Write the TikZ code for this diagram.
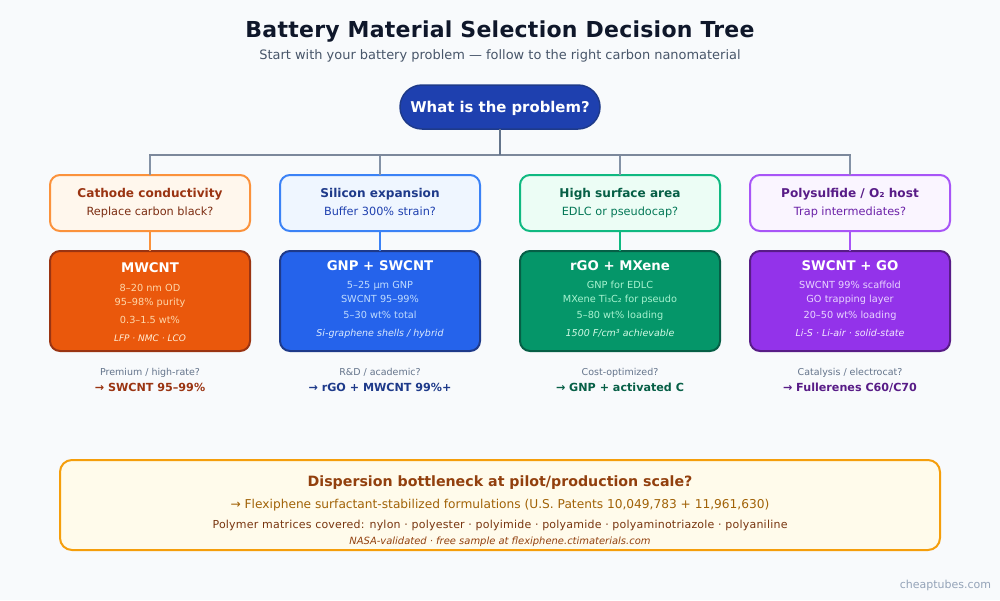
\documentclass[tikz,border=0pt]{standalone}
\usepackage{fontspec}
\setmainfont{DejaVu Sans}
\definecolor{bgc}{HTML}{F8FAFC}
\definecolor{ink}{HTML}{0F172A}
\definecolor{subink}{HTML}{475569}
\definecolor{note}{HTML}{64748B}
\definecolor{trunk}{HTML}{64748B}
\definecolor{bus}{HTML}{7C889B}
\definecolor{drop}{HTML}{8492A6}
\definecolor{rootf}{HTML}{1E40AF}
\definecolor{rootd}{HTML}{1E3A8A}
\definecolor{oB}{HTML}{FB923C}\definecolor{oF}{HTML}{FFF7ED}\definecolor{oT}{HTML}{9A3412}\definecolor{oS}{HTML}{7C2D12}
\definecolor{oSF}{HTML}{EA580C}\definecolor{oL}{HTML}{FED7AA}\definecolor{oI}{HTML}{FFEDD5}
\definecolor{bB}{HTML}{3B82F6}\definecolor{bF}{HTML}{EFF6FF}\definecolor{bT}{HTML}{1E3A8A}\definecolor{bS}{HTML}{1E40AF}
\definecolor{bSF}{HTML}{2563EB}\definecolor{bL}{HTML}{BFDBFE}\definecolor{bI}{HTML}{DBEAFE}
\definecolor{gB}{HTML}{10B981}\definecolor{gF}{HTML}{ECFDF5}\definecolor{gT}{HTML}{065F46}\definecolor{gS}{HTML}{047857}
\definecolor{gSF}{HTML}{059669}\definecolor{gL}{HTML}{A7F3D0}\definecolor{gI}{HTML}{D1FAE5}
\definecolor{pB}{HTML}{A855F7}\definecolor{pF}{HTML}{FAF5FF}\definecolor{pT}{HTML}{581C87}\definecolor{pS}{HTML}{6B21A8}
\definecolor{pSF}{HTML}{9333EA}\definecolor{pL}{HTML}{E9D5FF}\definecolor{pI}{HTML}{F3E8FF}
\definecolor{yB}{HTML}{F59E0B}\definecolor{yF}{HTML}{FFFBEB}\definecolor{yT}{HTML}{92400E}\definecolor{yS}{HTML}{A16207}\definecolor{yD}{HTML}{78350F}
\definecolor{foot}{HTML}{94A3B8}
\tikzset{
  tx/.style={anchor=base,inner sep=0pt,outer sep=0pt},
  f/.style={tx,font=\fontsize{#1}{#1}\selectfont},
  fb/.style={tx,font=\fontsize{#1}{#1}\selectfont\bfseries},
  fi/.style={tx,font=\fontsize{#1}{#1}\selectfont\itshape},
  probbox/.style 2 args={draw=#1,fill=#2,line width=2pt,rounded corners=10pt,minimum width=200pt,minimum height=56pt,inner sep=0pt,outer sep=0pt},
  solbox/.style 2 args={draw=#1,fill=#2,line width=2pt,rounded corners=10pt,minimum width=200pt,minimum height=100pt,inner sep=0pt,outer sep=0pt},
  conn/.style={line width=2pt},
}
\begin{document}
\begin{tikzpicture}[x=1pt,y=-1pt]
\useasboundingbox (0,0) rectangle (1000,600);
\fill[bgc] (0,0) rectangle (1000,600);
\node[tx,text=ink,font=\fontsize{22}{22}\selectfont\bfseries\addfontfeature{LetterSpace=1.2}] (title) at (500,37) {Battery Material Selection Decision Tree};
\node[f=12.95,text=subink] (subtitle) at (500,59) {Start with your battery problem — follow to the right carbon nanomaterial};
% root
\node[draw=rootd,fill=rootf,line width=1.5pt,rounded corners=22pt,minimum width=200pt,minimum height=44pt,inner sep=0pt,outer sep=0pt] (root) at (500,107) {};
\node[fb=14.85,text=white] (roottext) at (500,112.5) {What is the problem?};
\coordinate (busc) at (500,155);
% problem boxes
\node[probbox={oB}{oF}] (p1) at (150,203) {};
\node[probbox={bB}{bF}] (p2) at (380,203) {};
\node[probbox={gB}{gF}] (p3) at (620,203) {};
\node[probbox={pB}{pF}] (p4) at (850,203) {};
% solution boxes
\node[solbox={oT}{oSF}] (s1) at (150,301) {};
\node[solbox={bT}{bSF}] (s2) at (380,301) {};
\node[solbox={gT}{gSF}] (s3) at (620,301) {};
\node[solbox={pT}{pSF}] (s4) at (850,301) {};
% connectors
\draw[conn,drop] (p1.north) -- (p1.north |- busc);
\draw[conn,drop] (p2.north) -- (p2.north |- busc);
\draw[conn,drop] (p3.north) -- (p3.north |- busc);
\draw[conn,drop] (p4.north) -- (p4.north |- busc);
\draw[conn,bus,line cap=rect] (p1.north |- busc) -- (p4.north |- busc);
\draw[conn,trunk] (root.south) -- (busc);
\draw[conn,oB] (p1.south) -- (s1.north);
\draw[conn,bB] (p2.south) -- (s2.north);
\draw[conn,gB] (p3.south) -- (s3.north);
\draw[conn,pB] (p4.south) -- (s4.north);
% column 1
\node[fb=12.1,text=oT] (p1a) at (150,197) {Cathode conductivity};
\node[f=11.3,text=oS] (p1b) at (150,215) {Replace carbon black?};
\node[fb=13.3,text=white] (s1a) at (150,272) {MWCNT};
\node[f=9.75,text=oL] (s1b) at (150,291) {8–20 nm OD};
\node[f=9.75,text=oL] (s1c) at (150,305) {95–98\% purity};
\node[f=9.75,text=oL] (s1d) at (150,323) {0.3–1.5 wt\%};
\node[fi=9,text=oI] (s1e) at (150,341) {LFP · NMC · LCO};
\node[f=9.5,text=note] (n1a) at (150,375) {Premium / high-rate?};
\node[fb=11.15,text=oT] (n1b) at (150,391) {→ SWCNT 95–99\%};
% column 2
\node[fb=12.1,text=bT] (p2a) at (380,197) {Silicon expansion};
\node[f=11.3,text=bS] (p2b) at (380,215) {Buffer 300\% strain?};
\node[fb=13.3,text=white] (s2a) at (380,270) {GNP + SWCNT};
\node[f=9.75,text=bL] (s2b) at (380,288) {5–25 µm GNP};
\node[f=9.75,text=bL] (s2c) at (380,302) {SWCNT 95–99\%};
\node[f=9.75,text=bL] (s2d) at (380,318) {5–30 wt\% total};
\node[fi=9.5,text=bI] (s2e) at (380,336) {Si-graphene shells / hybrid};
\node[f=9.5,text=note] (n2a) at (380,375) {R\&D / academic?};
\node[fb=11.15,text=bT] (n2b) at (380,391) {→ rGO + MWCNT 99\%+};
% column 3
\node[fb=12.1,text=gT] (p3a) at (620,197) {High surface area};
\node[f=11.3,text=gS] (p3b) at (620,215) {EDLC or pseudocap?};
\node[fb=13.3,text=white] (s3a) at (620,270) {rGO + MXene};
\node[f=9.75,text=gL] (s3b) at (620,288) {GNP for EDLC};
\node[f=9.75,text=gL] (s3c) at (620,302) {MXene Ti₃C₂ for pseudo};
\node[f=9.75,text=gL] (s3d) at (620,318) {5–80 wt\% loading};
\node[fi=9.5,text=gI] (s3e) at (620,336) {1500 F/cm³ achievable};
\node[f=9.5,text=note] (n3a) at (620,375) {Cost-optimized?};
\node[fb=11.15,text=gT] (n3b) at (620,391) {→ GNP + activated C};
% column 4
\node[fb=12.1,text=pT] (p4a) at (850,197) {Polysulfide / O₂ host};
\node[f=11.3,text=pS] (p4b) at (850,215) {Trap intermediates?};
\node[fb=13.3,text=white] (s4a) at (850,270) {SWCNT + GO};
\node[f=9.75,text=pL] (s4b) at (850,288) {SWCNT 99\% scaffold};
\node[f=9.75,text=pL] (s4c) at (850,302) {GO trapping layer};
\node[f=9.75,text=pL] (s4d) at (850,318) {20–50 wt\% loading};
\node[fi=9.5,text=pI] (s4e) at (850,336) {Li-S · Li-air · solid-state};
\node[f=9.5,text=note] (n4a) at (850,375) {Catalysis / electrocat?};
\node[fb=11.15,text=pT] (n4b) at (850,391) {→ Fullerenes C60/C70};
% bottom
\node[draw=yB,fill=yF,line width=2pt,rounded corners=12pt,minimum width=880pt,minimum height=90pt,inner sep=0pt,outer sep=0pt] (bottom) at (500,505) {};
\node[fb=14.2,text=yT] (b1) at (500,486) {Dispersion bottleneck at pilot/production scale?};
\node[f=12.2,text=yS] (b2) at (500,508) {→ Flexiphene surfactant-stabilized formulations (U.S. Patents 10,049,783 + 11,961,630)};
\node[tx,text=yD,font=\fontsize{11}{11}\selectfont\addfontfeature{LetterSpace=2}] (b3) at (500,528) {Polymer matrices covered: nylon · polyester · polyimide · polyamide · polyaminotriazole · polyaniline};
\node[fi=9.95,text=yT] (b4) at (500,544) {NASA-validated · free sample at flexiphene.ctimaterials.com};
\node[f=11,text=foot,anchor=base east] (foot) at (991,588) {cheaptubes.com};
\end{tikzpicture}
\end{document}
